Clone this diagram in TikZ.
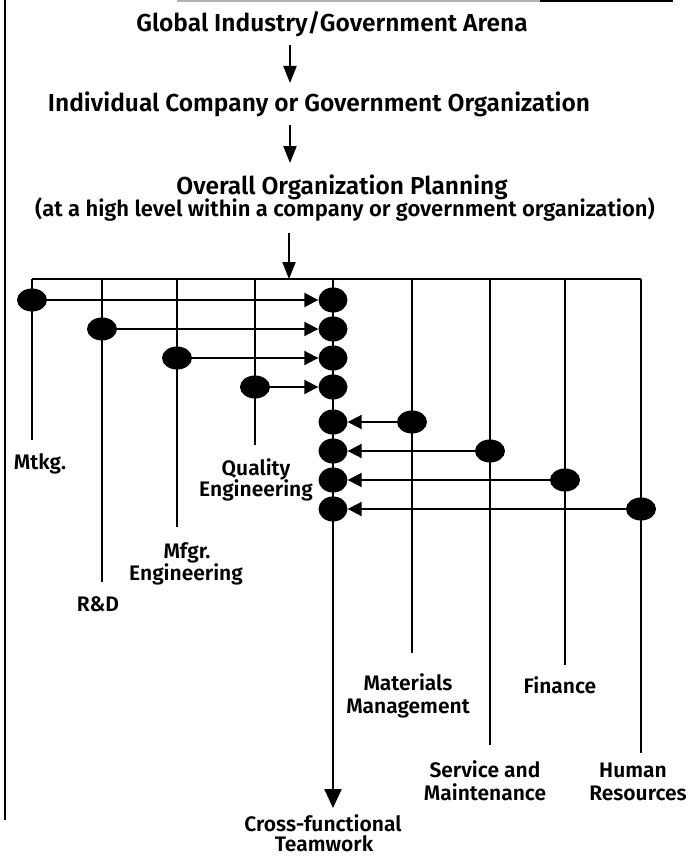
\documentclass[tikz,border=0pt]{standalone}
\usepackage{fontspec}
\setmainfont{Fira Sans}
\newfontfamily\lab{Fira Sans SemiBold}
\usetikzlibrary{arrows.meta,shapes.geometric}
\begin{document}
\begin{tikzpicture}[x=1pt,y=-1pt,
  dot/.style={ellipse,fill=black,minimum width=30pt,minimum height=23pt,inner sep=0pt},
  cdot/.style={ellipse,fill=black,minimum width=29pt,minimum height=25pt,inner sep=0pt},
  ln/.style={line width=2.2pt},
  arr/.style={line width=2pt,-{Triangle[width=14pt,length=14pt]}},
  toparr/.style={line width=2pt,-{Triangle[width=13pt,length=17pt]}},
  ttl/.style={font=\lab\fontsize{24.5}{26}\selectfont,inner sep=0pt,anchor=base},
  sub/.style={font=\lab\fontsize{22}{24}\selectfont,inner sep=0pt,anchor=base},
  lbl/.style={font=\lab\fontsize{21}{23}\selectfont,inner sep=0pt,anchor=base}]
\useasboundingbox (0,0) rectangle (690,856);
% frame remnants
\draw[line width=2pt] (5,0) -- (5,820);
\draw[line width=2pt,gray!60] (177,1) -- (540,1);
\draw[line width=2pt] (540,1) -- (673,1);
% titles
\node[ttl] (t1) at (332,32) {Global Industry/Government Arena};
\node[ttl] (t2) at (319,112) {Individual Company or Government Organization};
\node[ttl] (t3) at (342,194) {Overall Organization Planning};
\node[sub] (t4) at (345,216) {(at a high level within a company or government organization)};
\coordinate (a1s) at (290,45); \coordinate (a1e) at (290,83);
\coordinate (a2s) at (290,125); \coordinate (a2e) at (290,163);
\coordinate (a3s) at (289,233); \coordinate (a3e) at (289,279);
\draw[toparr] (a1s) -- (a1e);
\draw[toparr] (a2s) -- (a2e);
\draw[toparr] (a3s) -- (a3e);
% bar
\coordinate (barL) at (32,279); \coordinate (barR) at (641,279);
\draw[ln] (barL) -- (barR);
% verticals
\coordinate (mB) at (32,440);
\coordinate (rT) at (102,279); \coordinate (rB) at (102,582);
\coordinate (gT) at (177,279); \coordinate (gB) at (177,527);
\coordinate (qT) at (255,279); \coordinate (qB) at (255,445);
\coordinate (cT) at (333,279); \coordinate (cB) at (333,808);
\coordinate (tT) at (412,279); \coordinate (tB) at (412,653);
\coordinate (sT) at (490,279); \coordinate (sB) at (490,745);
\coordinate (fT) at (565,279); \coordinate (fB) at (565,665);
\coordinate (hB) at (641,753);
\draw[ln] (barL) -- (mB);
\draw[ln] (rT) -- (rB);
\draw[ln] (gT) -- (gB);
\draw[ln] (qT) -- (qB);
\draw[ln] (tT) -- (tB);
\draw[ln] (sT) -- (sB);
\draw[ln] (fT) -- (fB);
\draw[ln] (barR) -- (hB);
\draw[ln,-{Triangle[width=17pt,length=19pt]}] (cT) -- (cB);
% centre dots
\node[cdot] (c1) at (333,300) {};
\node[cdot] (c2) at (333,329) {};
\node[cdot] (c3) at (333,358) {};
\node[cdot] (c4) at (333,387) {};
\node[cdot] (c5) at (333,422) {};
\node[cdot] (c6) at (333,451) {};
\node[cdot] (c7) at (333,480) {};
\node[cdot] (c8) at (333,509) {};
% function dots
\node[dot] (m1) at (32,300) {};
\node[dot] (r1) at (102,329) {};
\node[dot] (g1) at (177,358) {};
\node[dot] (q1) at (255,387) {};
\node[dot] (tm) at (412,422) {};
\node[dot] (s1) at (490,451) {};
\node[dot] (f1) at (565,480) {};
\node[dot] (h1) at (641,509) {};
\draw[arr] (m1) -- (c1);
\draw[arr] (r1) -- (c2);
\draw[arr] (g1) -- (c3);
\draw[arr] (q1) -- (c4);
\draw[arr] (tm) -- (c5);
\draw[arr] (s1) -- (c6);
\draw[arr] (f1) -- (c7);
\draw[arr] (h1) -- (c8);
% labels
\node[lbl] (lm) at (40,469) {Mtkg.};
\node[lbl] (lq1) at (256,475) {Quality};
\node[lbl] (lq2) at (256,496) {Engineering};
\node[lbl] (lr) at (98,611) {R\&D};
\node[lbl] (lg1) at (187,558) {Mfgr.};
\node[lbl] (lg2) at (186,580) {Engineering};
\node[lbl] (lt1) at (408,690) {Materials};
\node[lbl] (lt2) at (408,713) {Management};
\node[lbl] (lf) at (560,693) {Finance};
\node[lbl] (ls1) at (485,777) {Service and};
\node[lbl] (ls2) at (485,800) {Maintenance};
\node[lbl] (lh1) at (633,777) {Human};
\node[lbl] (lh2) at (638,800) {Resources};
\node[lbl] (lc1) at (323,831) {Cross-functional};
\node[lbl] (lc2) at (324,851) {Teamwork};
\end{tikzpicture}
\end{document}
